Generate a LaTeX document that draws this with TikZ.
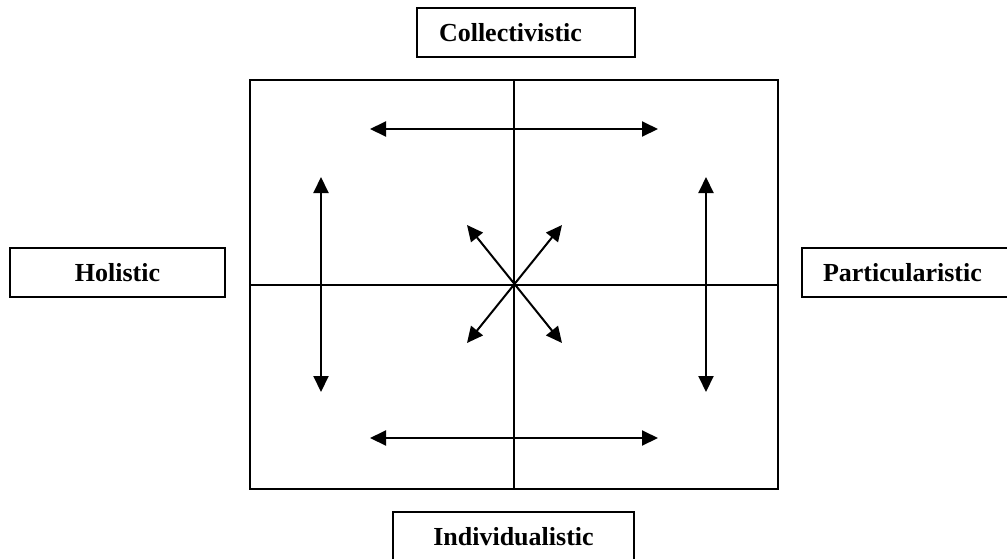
\documentclass[tikz,border=0pt]{standalone}
\usepackage{fontspec}
\setmainfont{Liberation Serif}
\usetikzlibrary{arrows.meta,positioning,calc}

\begin{document}
\begin{tikzpicture}[
  x=0.5pt, y=-0.5pt,
  font=\fontsize{13}{15}\selectfont\bfseries,
  lbl/.style = {draw, line width=1.1pt, inner xsep=11pt, inner ysep=0pt, minimum height=24.5pt, text width=#1},
  ar/.style  = {{Triangle[length=8pt,width=7.5pt]}-{Triangle[length=8pt,width=7.5pt]}, line width=1pt}
]
\clip (0,0) rectangle (1007,558);

% ---------- central frame with cross -----------------------------------
\node[draw, line width=1pt, minimum width=264pt, minimum height=204.5pt, inner sep=0pt] (frame) at (514,284.5) {};
\draw[line width=1pt] (frame.north) -- (frame.south);
\draw[line width=1pt] (frame.west) -- (frame.east);

% ---------- outer labels ----------------------------------------------
\node[lbl=87pt, align=left]     (coll) at (526,32.5)  {Collectivistic};
\node[lbl=85.5pt, align=center] (holi) at (117.5,272.5) {Holistic};
\node[lbl=86pt, align=left, inner xsep=10.5pt] (part) at (909,272.5) {Particularistic};
\node[lbl=98.5pt, align=center] (indi) at (513.5,536.5) {Individualistic};

% ---------- arrow end points ------------------------------------------
\coordinate (topL) at (370,129);  \coordinate (topR) at (658,129);
\coordinate (botL) at (370,438);  \coordinate (botR) at (658,438);
\coordinate (lftT) at (321,177);  \coordinate (lftB) at (321,392);
\coordinate (rgtT) at (706,177);  \coordinate (rgtB) at (706,392);
\coordinate (dUL) at (467,225);   \coordinate (dLR) at (562,343);
\coordinate (dUR) at (562,225);   \coordinate (dLL) at (467,343);

\foreach \a/\b in {topL/topR, botL/botR, lftT/lftB, rgtT/rgtB, dUL/dLR, dUR/dLL}{
  \draw[ar] (\a) -- (\b);}

\end{tikzpicture}
\end{document}
